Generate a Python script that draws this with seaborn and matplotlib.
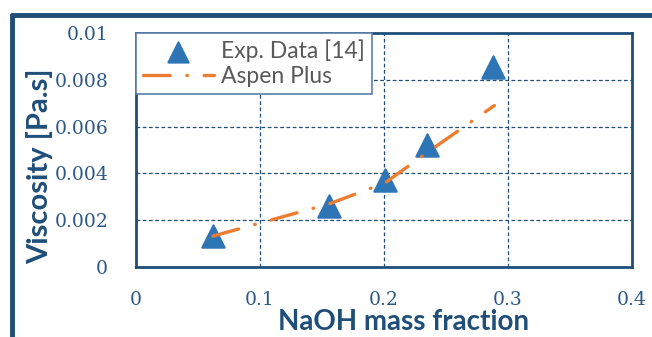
import matplotlib
matplotlib.use("Agg")
import matplotlib.pyplot as plt
from matplotlib.lines import Line2D
import seaborn as sns
import pandas as pd

# Measured NaOH solution viscosity vs. Aspen Plus prediction
exp_fraction = [0.062, 0.156, 0.201, 0.235, 0.288]
exp_viscosity = [0.00132, 0.0026, 0.0037, 0.0052, 0.00855]

aspen_fraction = [0.062, 0.156, 0.201, 0.235, 0.289]
aspen_viscosity = [0.00132, 0.0027, 0.0036, 0.0049, 0.0069]

x_ticks = [0, 0.1, 0.2, 0.3, 0.4]
x_tick_labels = ["0", "0.1", "0.2", "0.3", "0.4"]
y_ticks = [0, 0.002, 0.004, 0.006, 0.008, 0.01]
y_tick_labels = ["0", "0.002", "0.004", "0.006", "0.008", "0.01"]

exp_df = pd.DataFrame({"fraction": exp_fraction, "viscosity": exp_viscosity})
aspen_df = pd.DataFrame({"fraction": aspen_fraction, "viscosity": aspen_viscosity})

sns.set_theme(style="white")
plt.rcParams["font.family"] = ["Lato", "DejaVu Sans"]

navy = "#1f4e79"
tick_blue = "#2b5886"
blue = "#2e75b6"
orange = "#ed7d31"

fig = plt.figure(figsize=(6.52, 3.37), dpi=100)
ax = fig.add_axes([136 / 652, 70 / 337, 496 / 652, 234 / 337])

sns.lineplot(data=aspen_df, x="fraction", y="viscosity", ax=ax, color=orange,
             lw=2.4, linestyle=(0, (8, 5, 0.2, 5)), dash_capstyle="round",
             label="Aspen Plus", zorder=3)
sns.scatterplot(data=exp_df, x="fraction", y="viscosity", ax=ax, marker="^",
                s=260, color=blue, edgecolor=blue, linewidth=1.5,
                label="Exp. Data [14]", zorder=2)

ax.set_xlim(0, 0.4)
ax.set_ylim(0, 0.01)
ax.set_xticks(x_ticks)
ax.set_xticklabels(x_tick_labels)
ax.set_yticks(y_ticks)
ax.set_yticklabels(y_tick_labels)
ax.tick_params(axis="x", length=0, pad=17, labelcolor=tick_blue)
ax.tick_params(axis="y", length=0, pad=20, labelcolor=tick_blue)
for lab in ax.get_xticklabels() + ax.get_yticklabels():
    lab.set_family("DejaVu Serif")
    lab.set_fontsize(13.5)

ax.grid(True, color=navy, linestyle=(0, (3, 2)), linewidth=0.9)
for sp in ax.spines.values():
    sp.set_color(navy)
    sp.set_linewidth(2)

ax.set_xlabel("NaOH mass fraction", fontsize=20, fontweight="bold", color=navy, labelpad=0)
ax.set_ylabel("Viscosity [Pa.s]", fontsize=21, fontweight="bold", color=navy, labelpad=1)
ax.xaxis.label.set_x((403.5 - 136) / 496)
ax.yaxis.label.set_y((267 - 166) / 234)

handles, labels = ax.get_legend_handles_labels()
order = [labels.index("Exp. Data [14]"), labels.index("Aspen Plus")]
leg = ax.legend([handles[i] for i in order], [labels[i] for i in order],
                loc="upper left", bbox_to_anchor=(0, 1), borderaxespad=0,
                fontsize=16.5, frameon=True, fancybox=False, framealpha=1,
                edgecolor="#5b7fa8", handlelength=3.1, handletextpad=0.3,
                labelspacing=0.15, borderpad=0.3, markerscale=0.9)
leg.get_frame().set_linewidth(1.2)
for t in leg.get_texts():
    t.set_color("#595959")

# Outer frame (top and left edges)
fig.add_artist(Line2D([11.5 / 652, 1], [1 - 14.5 / 337, 1 - 14.5 / 337],
                      transform=fig.transFigure, color=navy, lw=3.5))
fig.add_artist(Line2D([11.5 / 652, 11.5 / 652], [0, 1 - 14.5 / 337],
                      transform=fig.transFigure, color=navy, lw=3.5))

fig.savefig("out.png", dpi=100)
